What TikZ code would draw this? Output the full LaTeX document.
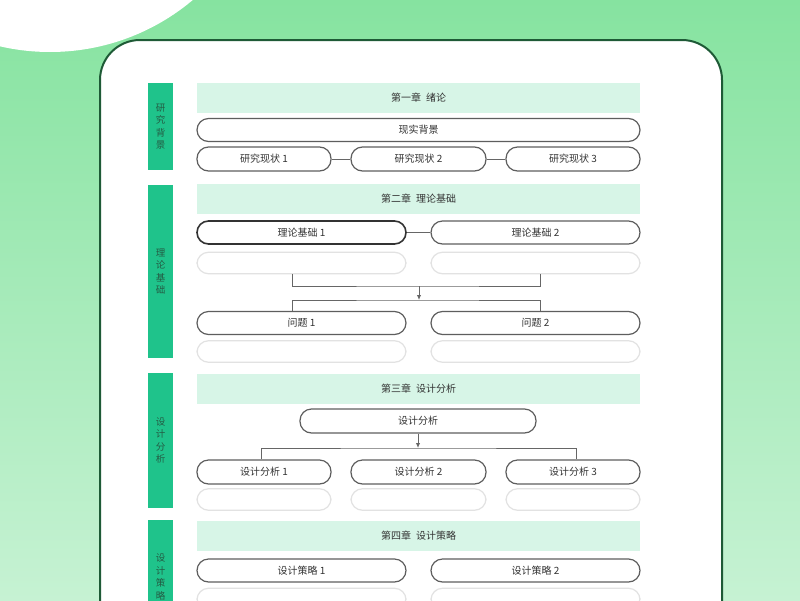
\documentclass[tikz,border=0pt]{standalone}
\usepackage{fontspec}
\setmainfont{Noto Sans CJK SC}
\usepackage{tikz}
\usetikzlibrary{arrows.meta}
\definecolor{bgtop}{HTML}{86E3A0}
\definecolor{bgbot}{HTML}{C6F2D3}
\definecolor{cardline}{HTML}{1E5A36}
\definecolor{barcol}{HTML}{1FC38B}
\definecolor{bartxt}{HTML}{245C44}
\definecolor{mint}{HTML}{D7F5E7}
\definecolor{pillgray}{HTML}{5E5E5E}
\definecolor{ghostgray}{HTML}{E2E2E2}
\definecolor{linegray}{HTML}{666666}
\definecolor{txt}{HTML}{333333}
\tikzstyle{pill}=[rectangle, rounded corners=11.5pt, draw=pillgray, line width=1.2pt, fill=white, minimum height=23pt, inner sep=0pt, text=txt, font=\fontsize{10}{12}\selectfont]
\tikzstyle{pillbold}=[pill, draw=black!80, line width=1.6pt]
\tikzstyle{ghost}=[pill, draw=ghostgray, minimum height=21.5pt]
\tikzstyle{head}=[rectangle, fill=mint, minimum width=443pt, minimum height=30pt, inner sep=0pt, text=txt, font=\fontsize{10}{12}\selectfont]
\tikzstyle{bar}=[rectangle, fill=barcol, minimum width=25pt, inner sep=0pt, align=center, text=bartxt, font=\fontsize{9.5}{12.5}\selectfont]
\tikzstyle{link}=[draw=linegray, line width=1pt]
\tikzstyle{arrow}=[draw=linegray, line width=1pt, -{Latex[length=5pt,width=4.5pt]}]

\begin{document}
\begin{tikzpicture}[x=1pt, y=-1pt]
	\useasboundingbox (0,0) rectangle (800,600);
	\clip (0,0) rectangle (800,600);
	\shade[top color=bgtop, bottom color=bgbot] (0,0) rectangle (800,600);
	\fill[white] (50,-170) circle[radius=222pt];
	\draw[fill=white, draw=cardline, line width=2pt, rounded corners=40pt] (100,40) rectangle (722,690);
	\begin{scope}
		% chapter one
		\node (b1) at (160.5, 126.5)[bar, minimum height=87pt] {研\\究\\背\\景};
		\node (h1) at (418.5, 98)[head] {第一章\hspace{0.5em}绪论};
		\node (bg) at (418.5, 130)[pill, minimum width=443pt] {现实背景};
		\node (r1) at (264, 159)[pill, minimum width=134pt, minimum height=24pt] {研究现状 1};
		\node (r2) at (418.5, 159)[pill, minimum width=135pt, minimum height=24pt] {研究现状 2};
		\node (r3) at (573, 159)[pill, minimum width=134pt, minimum height=24pt] {研究现状 3};
		% chapter two
		\node (b2) at (160.5, 271.5)[bar, minimum height=173pt] {理\\论\\基\\础};
		\node (h2) at (418.5, 199)[head] {第二章\hspace{0.5em}理论基础};
		\node (t1) at (301.5, 232.5)[pillbold, minimum width=209pt] {理论基础 1};
		\node (t2) at (535.5, 232.5)[pill, minimum width=209pt] {理论基础 2};
		\node (g1) at (301.5, 263)[ghost, minimum width=209pt] {};
		\node (g2) at (535.5, 263)[ghost, minimum width=209pt] {};
		\node (q1) at (301.5, 323)[pill, minimum width=209pt] {问题 1};
		\node (q2) at (535.5, 323)[pill, minimum width=209pt] {问题 2};
		\node (g3) at (301.5, 351.5)[ghost, minimum width=209pt] {};
		\node (g4) at (535.5, 351.5)[ghost, minimum width=209pt] {};
		\coordinate (j1) at (419, 286);
		\coordinate (j2) at (419, 300);
		% chapter three
		\node (b3) at (160.5, 440.5)[bar, minimum height=135pt] {设\\计\\分\\析};
		\node (h3) at (418.5, 388.5)[head] {第三章\hspace{0.5em}设计分析};
		\node (a0) at (418, 421)[pill, minimum width=236pt, minimum height=24pt] {设计分析};
		\node (a1) at (264, 472)[pill, minimum width=134pt, minimum height=24pt] {设计分析 1};
		\node (a2) at (418.5, 472)[pill, minimum width=135pt, minimum height=24pt] {设计分析 2};
		\node (a3) at (573, 472)[pill, minimum width=134pt, minimum height=24pt] {设计分析 3};
		\node (g5) at (264, 499.5)[ghost, minimum width=134pt] {};
		\node (g6) at (418.5, 499.5)[ghost, minimum width=135pt] {};
		\node (g7) at (573, 499.5)[ghost, minimum width=134pt] {};
		\coordinate (j3) at (418, 448);
		% chapter four
		\node (b4) at (160.5, 577)[bar, minimum height=114pt] {设\\计\\策\\略};
		\node (h4) at (418.5, 536)[head] {第四章\hspace{0.5em}设计策略};
		\node (s1) at (301.5, 570.5)[pill, minimum width=209pt] {设计策略 1};
		\node (s2) at (535.5, 570.5)[pill, minimum width=209pt] {设计策略 2};
		\node (g8) at (301.5, 599)[ghost, minimum width=209pt] {};
		\node (g9) at (535.5, 599)[ghost, minimum width=209pt] {};
	\end{scope}
	\begin{scope}
		\path [link] (r1) edge (r2);
		\path [link] (r2) edge (r3);
		\path [link] (t1) edge (t2);
		\draw [link] ([xshift=-9.5pt]g1.south) |- (j1) -| ([xshift=4.5pt]g2.south);
		\draw [arrow] (j1) -- (j2);
		\draw [link] ([xshift=-9.5pt]q1.north) |- (j2) -| ([xshift=4.5pt]q2.north);
		\draw [arrow] (a0) -- (j3);
		\draw [link] ([xshift=-3pt]a1.north) |- (j3) -| ([xshift=3pt]a3.north);
	\end{scope}
\end{tikzpicture}
\end{document}
